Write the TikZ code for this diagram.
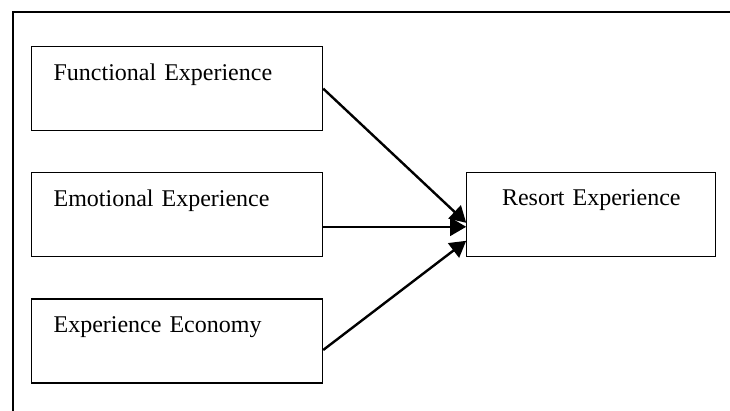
\documentclass[tikz,border=0pt]{standalone}
\usepackage{fontspec}
\setmainfont{Liberation Serif}
\usepackage{tikz}
\usetikzlibrary{arrows.meta,positioning}

\begin{document}
\begin{tikzpicture}[
		x=0.5pt,y=-0.5pt,
		font=\fontsize{12pt}{14pt}\selectfont,
		factor/.style={draw,line width=0.6pt,align=left,text width=123.5pt,
			inner xsep=11pt,inner ysep=0pt,text height=17pt,text depth=25pt},
		outcome/.style={factor,align=center,text width=102.5pt,
			text height=16.5pt,text depth=25.5pt},
		flow/.style={-{Triangle[length=8pt,width=9pt]},line width=1.2pt},
		node distance=20.5pt,
		]
		\useasboundingbox (0,0) rectangle (730,411);
		% outer frame, cut at the right and the bottom
		\draw[line width=0.8pt] (730,12) -- (13,12) -- (13,411);
		
		\node[factor,anchor=north west] (func) at (31,46) {Functional Experience};
		\node[factor,below=of func] (emo) {Emotional Experience};
		\node[factor,below=of emo] (econ) {Experience Economy};
		
		\node[outcome,right=71.5pt of emo] (resort) {Resort Experience};
		
		\draw[flow] (func.east) -- ([yshift=-4pt]resort.west);
		\draw[flow] ([yshift=-6pt]emo.east) -- ([yshift=-6pt]resort.west);
		\draw[flow] ([yshift=-4.5pt]econ.east) -- ([yshift=-13pt]resort.west);
\end{tikzpicture}
\end{document}
